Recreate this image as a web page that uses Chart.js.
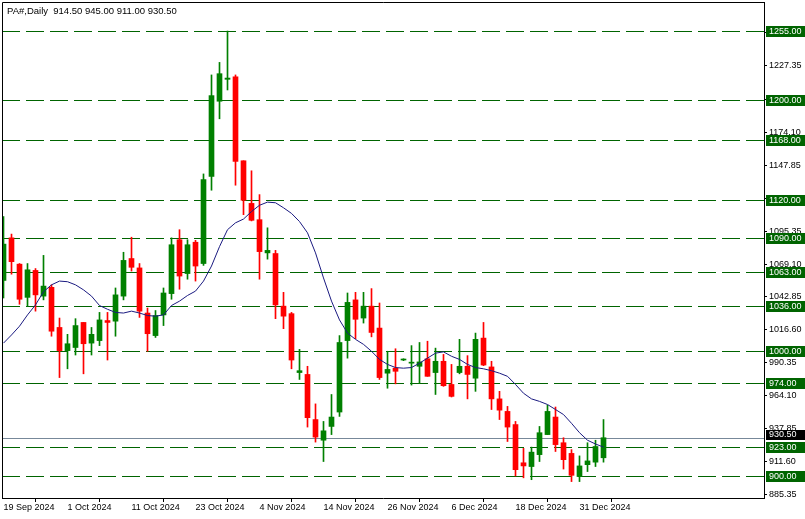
<!DOCTYPE html>
<html>
<head>
    <title>PA#, Daily</title>
    <script src="https://cdn.jsdelivr.net/npm/chart.js"></script>
    <style>
        body { margin: 0; background: #fff; }
    </style>
</head>
<body>
    <canvas id="paChart" width="805" height="519"></canvas>
    <script>
        const dates = [
            '19 Sep 2024', '20 Sep 2024', '23 Sep 2024', '24 Sep 2024', '25 Sep 2024', '26 Sep 2024', '27 Sep 2024', '30 Sep 2024',
            '1 Oct 2024', '2 Oct 2024', '3 Oct 2024', '4 Oct 2024', '7 Oct 2024', '8 Oct 2024', '9 Oct 2024', '10 Oct 2024',
            '11 Oct 2024', '14 Oct 2024', '15 Oct 2024', '16 Oct 2024', '17 Oct 2024', '18 Oct 2024', '21 Oct 2024', '22 Oct 2024',
            '23 Oct 2024', '24 Oct 2024', '25 Oct 2024', '28 Oct 2024', '29 Oct 2024', '30 Oct 2024', '31 Oct 2024', '1 Nov 2024',
            '4 Nov 2024', '5 Nov 2024', '6 Nov 2024', '7 Nov 2024', '8 Nov 2024', '11 Nov 2024', '12 Nov 2024', '13 Nov 2024',
            '14 Nov 2024', '15 Nov 2024', '18 Nov 2024', '19 Nov 2024', '20 Nov 2024', '21 Nov 2024', '22 Nov 2024', '25 Nov 2024',
            '26 Nov 2024', '27 Nov 2024', '28 Nov 2024', '29 Nov 2024', '2 Dec 2024', '3 Dec 2024', '4 Dec 2024', '5 Dec 2024',
            '6 Dec 2024', '9 Dec 2024', '10 Dec 2024', '11 Dec 2024', '12 Dec 2024', '13 Dec 2024', '16 Dec 2024', '17 Dec 2024',
            '18 Dec 2024', '19 Dec 2024', '20 Dec 2024', '23 Dec 2024', '24 Dec 2024', '26 Dec 2024', '27 Dec 2024', '30 Dec 2024',
            '31 Dec 2024', '2 Jan 2025', '3 Jan 2025', '6 Jan 2025'
        ];
        const opens = [
            1056, 1090, 1069, 1042.5, 1064, 1043.5, 1050.5, 1018.5,
            1000, 1002.5, 1022.5, 1006, 1008, 1024, 1023.5, 1043.5,
            1073.5, 1066, 1030, 1012, 1028.5, 1045.5, 1088.5, 1061.5,
            1086.5, 1069.5, 1139, 1199, 1216.5, 1218.5, 1151.5, 1117.5,
            1104.5, 1078, 1077.5, 1035.5, 1029.5, 982.5, 981, 945,
            928.5, 939.5, 951, 1008, 1040.5, 1026, 1035.5, 1018,
            982, 986, 992.5, 990, 987.5, 993.5, 982.5, 991.5,
            973, 982.5, 987.5, 978, 1010, 987, 961.5, 951.5,
            941, 910.5, 907.5, 917, 933, 947, 926.5, 918,
            899.5, 909, 911, 914.5
        ];
        const highs = [
            1107, 1093, 1069.5, 1069.5, 1065.5, 1076, 1052.5, 1026,
            1013, 1025.5, 1022.5, 1018.5, 1030.5, 1030.5, 1050, 1078.5,
            1090.5, 1069.5, 1034, 1032, 1050, 1090, 1096.5, 1088.5,
            1088, 1141, 1220, 1230, 1255, 1220, 1151.5, 1143.5,
            1124.5, 1098, 1080, 1046.5, 1030.5, 1001, 987.5, 957.5,
            943.5, 965, 1012, 1046, 1046.5, 1046.5, 1049.5, 1038,
            999.5, 1001.5, 993.5, 1004, 1006.5, 1007.5, 1002, 997,
            989, 1009, 996, 1014, 1022.5, 991.5, 967.5, 955.5,
            943.5, 922, 923, 939.5, 956.5, 955, 930.5, 921,
            916, 926.5, 928.5, 945
        ];
        const lows = [
            1042, 1061, 1037, 1035.5, 1031.5, 1040.5, 1011.5, 978.5,
            985.5, 996.5, 981.5, 996.5, 1004, 992.5, 1011.5, 1040.5,
            1063.5, 1026.5, 999.5, 1010.5, 1020, 1041, 1049, 1057,
            1055.5, 1068, 1128, 1185, 1208, 1132, 1108.5, 1103.5,
            1057, 1073, 1025.5, 1017.5, 985.5, 977, 939, 927,
            911.5, 933, 947.5, 994, 1009.5, 1022, 1011, 977,
            970, 973.5, 992, 972.5, 974, 979.5, 965, 971.5,
            963, 981.5, 961.5, 967.5, 988, 953, 945, 927.5,
            900, 898.5, 897, 911.5, 933, 919.5, 905.5, 895.5,
            895.5, 903.5, 907.5, 911
        ];
        const closes = [
            1085, 1071, 1041, 1064.5, 1044.5, 1051.5, 1015.5, 1000,
            1005.5, 1020, 1005.5, 1013, 1024.5, 1022.5, 1044.5, 1072,
            1066.5, 1031.5, 1013.5, 1028, 1046, 1084.5, 1059.5, 1084.5,
            1067.5, 1136.5, 1203.5, 1221, 1217.5, 1151, 1120, 1104,
            1079, 1080, 1036.5, 1027.5, 992.5, 984, 946.5, 931,
            936, 947, 1006.5, 1038.5, 1025, 1035.5, 1014.5, 978.5,
            985, 983.5, 993, 990.5, 991, 979.5, 991.5, 972,
            963.5, 987.5, 981, 1009, 988.5, 961.5, 952.5, 939,
            905, 908, 919, 934.5, 951.5, 925, 913, 900.5,
            908, 912, 923.5, 930.5
        ];
        // moving average
        const maLine = [
            1006, 1012.5, 1019.5, 1028.5, 1036.5, 1047, 1052.5, 1055.5,
            1055, 1052.5, 1048.5, 1043.5, 1036, 1033, 1030.5, 1030,
            1031.5, 1030, 1028, 1027.5, 1028.5, 1036, 1039.5, 1044,
            1047.5, 1055.5, 1067.5, 1083, 1096.5, 1102, 1105, 1111,
            1116, 1118.5, 1118, 1114, 1109.5, 1103, 1094, 1078,
            1058, 1039.5, 1024.5, 1014, 1009, 1005, 999.5, 993,
            989, 986.5, 986, 986.5, 990, 994, 998, 999,
            995.5, 993, 989, 986.5, 985.5, 984, 982, 979.5,
            973, 966, 961.5, 959.5, 957, 953, 949, 942,
            934.5, 928.5, 925.5, 923
        ];
        const levels = [1255, 1200, 1168, 1120, 1090, 1063, 1036, 1000, 974, 923, 900];
        const lastPrice = 930.5;
        const yTicks = [885.35, 911.60, 937.85, 964.10, 990.35, 1016.60, 1042.85, 1069.10, 1095.35,
                        1121.60, 1147.85, 1174.10, 1200.35, 1227.35, 1253.60];
        const xTickIdx = [0, 8, 16, 24, 32, 40, 48, 56, 64, 72];
        const headline = 'PA#,Daily  914.50 945.00 911.00 930.50';

        const FONT = '9px "Liberation Sans", Arial, sans-serif';
        const candleColors = opens.map((o, i) => closes[i] >= o ? '#008000' : '#ff0000');

        const levelsPlugin = {
            id: 'levels',
            beforeDatasetsDraw(chart) {
                const { ctx, chartArea: a, scales: { y } } = chart;
                ctx.save();
                ctx.lineWidth = 1;
                ctx.strokeStyle = '#006400';
                ctx.setLineDash([18, 6]);
                levels.forEach(lv => {
                    const py = Math.round(y.getPixelForValue(lv)) + 0.5;
                    ctx.beginPath();
                    ctx.moveTo(a.left, py);
                    ctx.lineTo(a.right, py);
                    ctx.stroke();
                });
                ctx.setLineDash([]);
                ctx.strokeStyle = '#778899';
                const bp = Math.round(y.getPixelForValue(lastPrice)) + 0.5;
                ctx.beginPath();
                ctx.moveTo(a.left, bp);
                ctx.lineTo(a.right, bp);
                ctx.stroke();
                ctx.restore();
            },
            afterDraw(chart) {
                const { ctx, chartArea: a, scales: { y } } = chart;
                ctx.save();
                // frame
                ctx.strokeStyle = '#000';
                ctx.lineWidth = 1;
                ctx.beginPath();
                ctx.moveTo(a.left + 0.5, a.bottom);
                ctx.lineTo(a.left + 0.5, a.top + 0.5);
                ctx.lineTo(a.right, a.top + 0.5);
                ctx.stroke();
                // price labels on the axis
                ctx.font = FONT;
                ctx.textBaseline = 'middle';
                ctx.textAlign = 'left';
                const boxL = a.right + 2;
                levels.forEach(lv => {
                    const py = Math.round(y.getPixelForValue(lv));
                    ctx.fillStyle = '#006400';
                    ctx.fillRect(boxL, py - 5, chart.width - boxL, 11);
                    ctx.fillStyle = '#fff';
                    ctx.fillText(lv.toFixed(2), boxL + 3, py + 1);
                });
                const bp = Math.round(y.getPixelForValue(lastPrice)) - 3;
                ctx.fillStyle = '#000';
                ctx.fillRect(boxL, bp - 5, chart.width - boxL, 10);
                ctx.fillStyle = '#fff';
                ctx.fillText(lastPrice.toFixed(2), boxL + 3, bp);
                // headline
                ctx.fillStyle = '#000';
                ctx.font = '9.5px "Liberation Sans", Arial, sans-serif';
                ctx.fillText(headline, a.left + 5, 11);
                ctx.restore();
            }
        };

        new Chart(document.getElementById('paChart').getContext('2d'), {
            type: 'bar',
            data: {
                datasets: [
                    {
                        type: 'line',
                        label: 'MA',
                        data: maLine.map((v, i) => ({ x: i, y: v })),
                        borderColor: '#1a1a80',
                        borderWidth: 1,
                        pointRadius: 0,
                        tension: 0
                    },
                    {
                        label: 'Body',
                        data: opens.map((o, i) => ({ x: i, y: [o, closes[i]] })),
                        backgroundColor: candleColors,
                        barThickness: 5,
                        minBarLength: 1,
                        grouped: false
                    },
                    {
                        label: 'Wick',
                        data: lows.map((l, i) => ({ x: i, y: [l, highs[i]] })),
                        backgroundColor: candleColors,
                        barThickness: 1,
                        minBarLength: 1,
                        grouped: false
                    }
                ]
            },
            options: {
                responsive: false,
                animation: false,
                devicePixelRatio: 1,
                events: [],
                layout: { padding: { left: 2, top: 2, right: 0, bottom: 0 } },
                plugins: { legend: { display: false }, tooltip: { enabled: false } },
                scales: {
                    x: {
                        type: 'linear',
                        offset: false,
                        min: -0.1875,
                        max: -0.1875 + 762 / 8,
                        afterBuildTicks: s => { s.ticks = xTickIdx.map(v => ({ value: v })); },
                        afterFit: s => { s.height = 21; s.paddingLeft = 0; s.paddingRight = 0; },
                        grid: { drawOnChartArea: false, drawTicks: true, tickLength: 4, color: '#000' },
                        border: { display: true, color: '#000' },
                        ticks: {
                            autoSkip: false,
                            maxRotation: 0,
                            align: 'start',
                            padding: 0,
                            color: '#000',
                            font: { family: '"Liberation Sans", Arial, sans-serif', size: 9 },
                            callback: v => dates[v]
                        }
                    },
                    y: {
                        position: 'right',
                        min: 882.4,
                        max: 1278.2,
                        afterBuildTicks: s => { s.ticks = yTicks.map(v => ({ value: v })); },
                        afterFit: s => { s.width = 41; s.paddingTop = 0; s.paddingBottom = 0; },
                        grid: { drawOnChartArea: false, drawTicks: true, tickLength: 3, color: '#000' },
                        border: { display: true, color: '#000' },
                        ticks: {
                            padding: 2,
                            color: '#000',
                            font: { family: '"Liberation Sans", Arial, sans-serif', size: 9 },
                            callback: v => v.toFixed(2)
                        }
                    }
                }
            },
            plugins: [levelsPlugin]
        });
    </script>
</body>
</html>
